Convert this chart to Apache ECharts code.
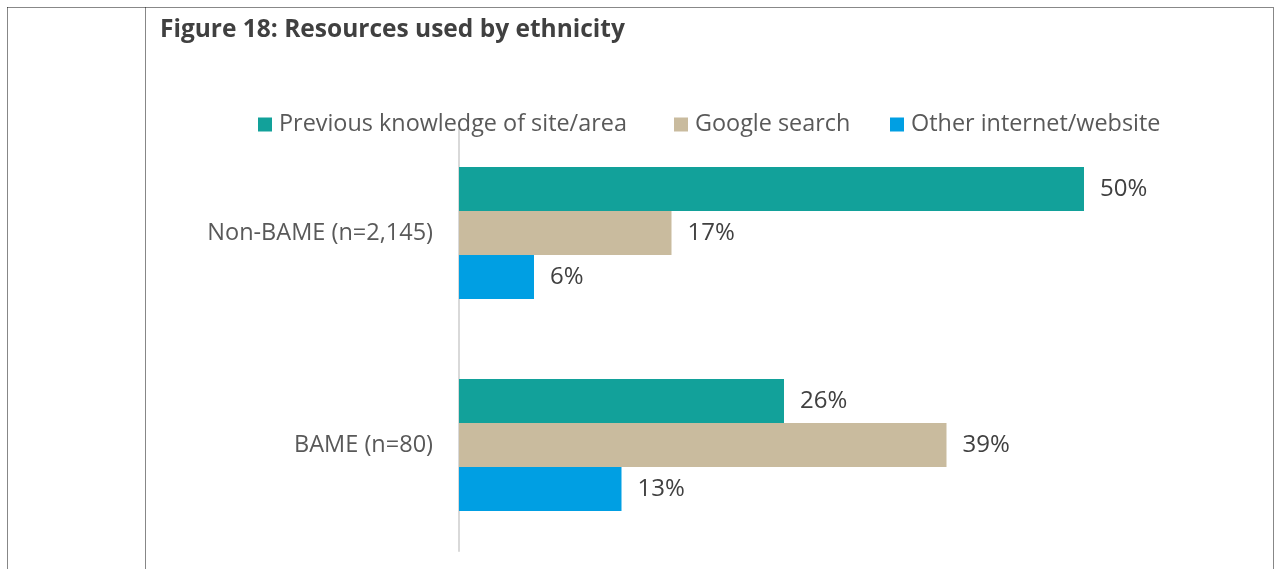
<!DOCTYPE html>
<html>
<head>
<meta charset="utf-8">
<style>
  html, body { margin: 0; padding: 0; background: #ffffff; }
  #chart { width: 1277px; height: 569px; }
</style>
<script src="https://cdn.jsdelivr.net/npm/echarts@6/dist/echarts.min.js"></script>
</head>
<body>
<div id="chart"></div>
<script>
// Groups shown on the vertical axis, top to bottom
const categories = ['Non-BAME (n=2,145)', 'BAME (n=80)'];

// Share of respondents (%) using each resource
const seriesNames = ['Previous knowledge of site/area', 'Google search', 'Other internet/website'];
const previousKnowledge = [50, 26];
const googleSearch = [17, 39];
const otherInternet = [6, 13];

const colors = ['#12A19A', '#C9BB9E', '#009FE3'];
const FONT = '"Open Sans", sans-serif';

const chart = echarts.init(document.getElementById('chart'), null, { renderer: 'canvas' });

function barSeries(name, data, color) {
  return {
    name: name,
    type: 'bar',
    data: data,
    barGap: '0%',
    barCategoryGap: '37.7%',
    itemStyle: { color: color },
    label: {
      show: true,
      position: 'right',
      distance: 16,
      formatter: '{c}%',
      color: '#404040',
      fontSize: 24,
      fontFamily: FONT
    },
    emphasis: { disabled: true }
  };
}

// One legend entry per series so each key sits at its own spot on the row
const legendLefts = [258, 674, 890];
const legends = seriesNames.map(function (name, i) {
  return {
    left: legendLefts[i],
    top: 113,
    padding: 0,
    itemWidth: 14,
    itemHeight: 14,
    itemGap: 0,
    icon: 'rect',
    selectedMode: false,
    textStyle: { color: '#595959', fontSize: 23.4, fontFamily: FONT, padding: [0, 0, 0, 2] },
    data: [name]
  };
});

// Dotted frame around the figure cell
const frame = { stroke: '#111111', lineWidth: 1, lineDash: [1, 1] };

chart.setOption({
  animation: false,
  backgroundColor: '#ffffff',
  title: {
    text: 'Figure 18: Resources used by ethnicity',
    left: 155,
    top: 13,
    textStyle: { color: '#404040', fontSize: 24.5, fontWeight: 'bold', fontFamily: FONT }
  },
  legend: legends,
  grid: { left: 459, top: 127, width: 625, bottom: 18, containLabel: false },
  xAxis: {
    type: 'value',
    min: 0,
    max: 50,
    show: false
  },
  yAxis: {
    type: 'category',
    inverse: true,
    data: categories,
    axisLine: { show: true, lineStyle: { color: '#D9D9D9', width: 2 } },
    axisTick: { show: false },
    axisLabel: { margin: 26, color: '#595959', fontSize: 23.5, fontFamily: FONT }
  },
  series: [
    barSeries(seriesNames[0], previousKnowledge, colors[0]),
    barSeries(seriesNames[1], googleSearch, colors[1]),
    barSeries(seriesNames[2], otherInternet, colors[2])
  ],
  graphic: [
    { type: 'line', shape: { x1: 7.5, y1: 7.5, x2: 1273.5, y2: 7.5 }, style: frame, silent: true },
    { type: 'line', shape: { x1: 7.5, y1: 7.5, x2: 7.5, y2: 569 }, style: frame, silent: true },
    { type: 'line', shape: { x1: 145.5, y1: 7.5, x2: 145.5, y2: 569 }, style: frame, silent: true },
    { type: 'line', shape: { x1: 1273.5, y1: 7.5, x2: 1273.5, y2: 569 }, style: frame, silent: true }
  ]
});
</script>
</body>
</html>
